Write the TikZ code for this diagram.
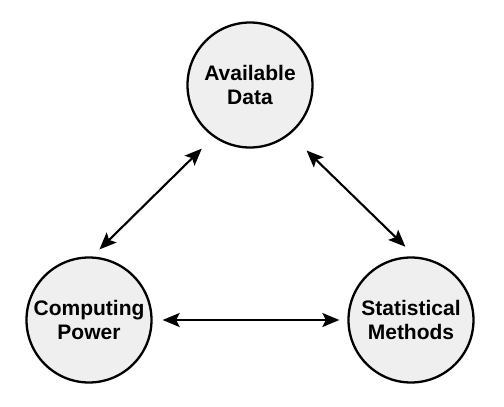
\documentclass[tikz,border=0pt]{standalone}
\usepackage{fontspec}
\setmainfont{Liberation Sans}
\usetikzlibrary{arrows.meta}
\definecolor{circfill}{HTML}{EFEFEF}
\tikzset{
  topic/.style={circle, draw=black, line width=2.3pt, fill=circfill, minimum size=125pt, inner sep=0pt,
    align=center, font=\bfseries\fontsize{21}{24}\selectfont},
  link/.style={line width=2.1pt, {Stealth[length=17pt,width=14pt,inset=3.5pt]}-{Stealth[length=17pt,width=14pt,inset=3.5pt]}}
}
\begin{document}
\begin{tikzpicture}[x=1pt,y=-1pt]
\useasboundingbox (0,0) rectangle (504,407);
\node[topic] (ad) at (250,85) {Available\\Data};
\node[topic] (cp) at (89,320) {Computing\\Power};
\node[topic] (sm) at (411,320) {Statistical\\Methods};
\draw[link, shorten <=10pt, shorten >=16.5pt] (cp.87) -- (ad.-125);
\draw[link, shorten <=23pt, shorten >=14pt] (ad.-51) -- (sm.86);
\draw[link, shorten <=10pt, shorten >=8pt] (cp.east) -- (sm.west);
\end{tikzpicture}
\end{document}
